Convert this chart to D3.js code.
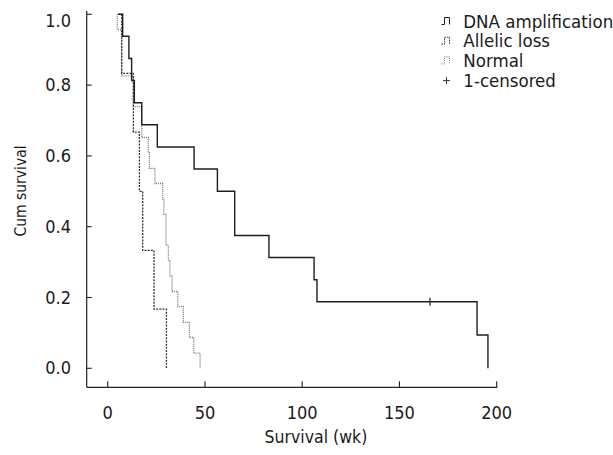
<!DOCTYPE html>
<html>
<head>
<meta charset="utf-8">
<script src="https://cdn.jsdelivr.net/npm/d3@7"></script>
<style>
  body { margin: 0; background: #fff; }
  text { font-family: "DejaVu Sans Condensed", "Liberation Sans", sans-serif; fill: #1a1a1a; }
</style>
</head>
<body>
<div id="grafico"></div>
<script>
// 1. Datos (semanas / supervivencia acumulada)
const series      = ['DNA amplification', 'Allelic loss', 'Normal'];
const dnaTiempo   = [5.4, 7.7, 10.9, 12.3, 13.7, 17.5, 25.5, 44.4, 56.4, 65.3, 82.9, 106.1, 107.6, 189.9, 195.5];
const dnaSurv     = [1.0, 0.938, 0.875, 0.813, 0.75, 0.688, 0.625, 0.563, 0.5, 0.375, 0.313, 0.25, 0.188, 0.094, 0.0];
const dnaCensura  = [165.7];
const aleTiempo   = [5.4, 7.2, 13.2, 16.3, 18.0, 23.8, 30.2];
const aleSurv     = [1.0, 0.833, 0.667, 0.5, 0.333, 0.167, 0.0];
const norTiempo   = [4.9, 4.9, 7.2, 13.2, 17.5, 20.9, 21.4, 24.3, 28.3, 28.9, 30.0, 31.2, 32.0, 33.1, 36.0, 38.9, 42.0, 44.2, 47.5];
const norSurv     = [1.0, 0.957, 0.826, 0.739, 0.652, 0.609, 0.565, 0.522, 0.478, 0.435, 0.348, 0.304, 0.261, 0.217, 0.174, 0.130, 0.087, 0.043, 0.0];
const ticksX      = [0, 50, 100, 150, 200];
const ticksY      = [0.0, 0.2, 0.4, 0.6, 0.8, 1.0];
const leyenda     = ['DNA amplification', 'Allelic loss', 'Normal', '1-censored'];

// 2. Configuracion
const ANCHO = 613, ALTO = 455;
const COLOR_EJE = '#222';

svg = d3.select('#grafico').append('svg')
  .attr('width', ANCHO).attr('height', ALTO);

fx = d3.scaleLinear().domain([0, 200]).range([107.7, 496.7]);
fy = d3.scaleLinear().domain([0, 1]).range([368.3, 14.3]);

const EJE_X = 387.3, EJE_Y = 86.7;

// 3. Ejes
svg.append('line')
  .attr('x1', EJE_Y).attr('x2', EJE_Y).attr('y1', 11).attr('y2', EJE_X)
  .attr('stroke', COLOR_EJE).attr('stroke-width', 1.2);
svg.append('line')
  .attr('x1', EJE_Y).attr('x2', fx(200) + 0.6).attr('y1', EJE_X).attr('y2', EJE_X)
  .attr('stroke', COLOR_EJE).attr('stroke-width', 1.2);

svg.selectAll('.tickx').data(ticksX).enter()
  .append('line')
  .attr('x1', d => fx(d)).attr('x2', d => fx(d))
  .attr('y1', EJE_X).attr('y2', EJE_X - 6)
  .attr('stroke', COLOR_EJE).attr('stroke-width', 1.1);
svg.selectAll('.labx').data(ticksX).enter()
  .append('text')
  .attr('x', d => fx(d)).attr('y', 419)
  .attr('text-anchor', 'middle').attr('font-size', 18)
  .text(d => d);

svg.selectAll('.ticky').data(ticksY).enter()
  .append('line')
  .attr('x1', EJE_Y).attr('x2', EJE_Y + 5)
  .attr('y1', d => fy(d)).attr('y2', d => fy(d))
  .attr('stroke', COLOR_EJE).attr('stroke-width', 1.1);
svg.selectAll('.laby').data(ticksY).enter()
  .append('text')
  .attr('x', 71).attr('y', d => fy(d) + (d == 1 ? 13 : 6))
  .attr('text-anchor', 'end').attr('font-size', 18)
  .text(d => d.toFixed(1));

svg.append('text')
  .attr('x', 316).attr('y', 443)
  .attr('text-anchor', 'middle').attr('font-size', 17.5)
  .text('Survival (wk)');
svg.append('text')
  .attr('transform', 'translate(26,191) rotate(-90)')
  .attr('text-anchor', 'middle').attr('font-size', 15.5)
  .text('Cum survival');

// 4. Curvas de Kaplan-Meier
const linea = d3.line()
  .x(d => fx(d[0])).y(d => fy(d[1]))
  .curve(d3.curveStepAfter);

function dibujarCurva(tiempos, surv, color, ancho, guiones) {
  puntos = tiempos.map((t, i) => [t, surv[i]]);
  svg.append('path')
    .attr('d', linea(puntos))
    .attr('fill', 'none')
    .attr('stroke', color)
    .attr('stroke-width', ancho)
    .attr('stroke-dasharray', guiones);
}
dibujarCurva(norTiempo, norSurv, '#7a7a7a', 1.3, '1,1');
dibujarCurva(aleTiempo, aleSurv, '#333', 1.3, '2,1.2');
dibujarCurva(dnaTiempo, dnaSurv, '#1e1e1e', 1.4, null);

// marcas de censura
svg.selectAll('.censura').data(dnaCensura).enter()
  .append('line')
  .attr('x1', d => fx(d)).attr('x2', d => fx(d))
  .attr('y1', d => fy(0.188) - 4).attr('y2', d => fy(0.188) + 4)
  .attr('stroke', '#222').attr('stroke-width', 1.2);

// 5. Leyenda
const estilos = [
  { color: '#1e1e1e', guiones: null },
  { color: '#333', guiones: '1.5,1' },
  { color: '#7a7a7a', guiones: '1,1' }
];
g_ley = svg.append('g');
leyenda.forEach((nombre, i) => {
  y = 27.5 + i * 19.7;
  g_ley.append('text')
    .attr('x', 463.3).attr('y', y)
    .attr('font-size', 18.5)
    .text(nombre);
  if (i < 3) {
    g_ley.append('path')
      .attr('d', `M441.5,${y - 3} h3 v-7 h5 v7`)
      .attr('fill', 'none')
      .attr('stroke', estilos[i].color)
      .attr('stroke-width', 1)
      .attr('stroke-dasharray', estilos[i].guiones);
  } else {
    g_ley.append('path')
      .attr('d', `M443,${y - 6} h7 M446.5,${y - 9.5} v7`)
      .attr('stroke', '#333')
      .attr('stroke-width', 1);
  }
});
</script>
</body>
</html>
